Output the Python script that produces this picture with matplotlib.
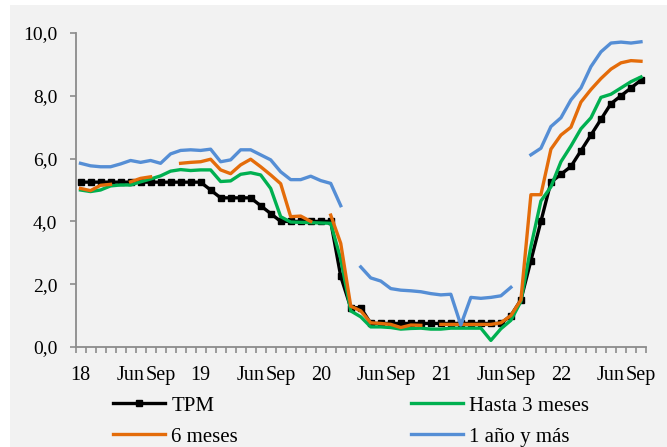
import numpy as np
import matplotlib
matplotlib.use("Agg")
import matplotlib.pyplot as plt
from matplotlib.patches import Rectangle

nan = np.nan

# monthly series, Jan 2018 .. Sep 2022
years = ["18", "19", "20", "21", "22"]
n_months = 57

tpm = [5.25]*13 + [5.0] + [4.75]*4 + [4.5, 4.25] + [4.0]*6 + [2.25, 1.25, 1.25] + [0.75]*14 + \
      [1.0, 1.5, 2.75, 4.0, 5.25, 5.5, 5.75, 6.25, 6.75, 7.25, 7.75, 8.0, 8.25, 8.5]

hasta3 = [5.0, 4.95, 5.0, 5.13, 5.16, 5.16, 5.26, 5.35, 5.45, 5.6, 5.65, 5.62, 5.64, 5.64,
          5.27, 5.29, 5.5, 5.55, 5.48, 5.05, 4.15, 3.98, 3.97, 3.96, 3.95, 3.94, 2.8, 1.15,
          0.96, 0.64, 0.64, 0.62, 0.57, 0.59, 0.6, 0.57, 0.57, 0.6, 0.6, 0.6, 0.6, 0.21, 0.58,
          0.85, 1.45, 3.2, 4.65, 5.1, 5.9, 6.4, 6.95, 7.3, 7.95, 8.05, 8.25, 8.45, 8.6]

seis = [5.05, 4.98, 5.15, 5.18, nan, 5.26, 5.37, 5.42, nan, nan, 5.85, 5.88, 5.9, 5.98,
        5.64, 5.52, 5.8, 5.98, 5.74, 5.48, 5.2, 4.15, 4.17, 4.0, nan, 4.2, 3.3, 1.3, 1.15,
        0.77, 0.75, 0.72, 0.62, 0.7, 0.69, nan, 0.72, 0.72, 0.72, 0.72, 0.72, 0.72, 0.77,
        1.0, 1.5, 4.85, 4.85, 6.3, 6.75, 7.0, 7.8, 8.2, 8.55, 8.85, 9.05, 9.12, 9.1]

unano = [5.85, 5.77, 5.74, 5.74, 5.83, 5.94, 5.88, 5.94, 5.85, 6.15, 6.26, 6.28, 6.26, 6.3,
         5.9, 5.96, 6.28, 6.28, 6.12, 5.96, 5.58, 5.33, 5.33, 5.44, 5.3, 5.21, 4.5, nan,
         2.55, 2.2, 2.1, 1.86, 1.81, 1.79, 1.76, 1.7, 1.66, 1.68, 0.7, 1.58, 1.55, 1.58, 1.63,
         1.9, nan, 6.12, 6.33, 7.02, 7.3, 7.87, 8.25, 8.93, 9.4, 9.68, 9.71, 9.68, 9.72]

c_tpm = "black"
c_3m = "#00B050"
c_6m = "#E46C0A"
c_1a = "#558ED5"

plt.rcParams['font.family'] = ['Liberation Serif', 'DejaVu Serif']

fig = plt.figure(figsize=(6.67, 4.47), dpi=100)
fig.patches.append(Rectangle((10/667, 0), 1, 442/447, transform=fig.transFigure,
                             facecolor="#F2F2F2", edgecolor="none", zorder=-5))
ax = fig.add_axes([75.5/667, 1-347/447, 570.5/667, 314/447])
ax.set_facecolor("none")

x = np.arange(n_months)
lw = 2.4
l1, = ax.plot(x, tpm, color=c_tpm, lw=lw, marker="s", ms=4.3, label="TPM")
l2, = ax.plot(x, hasta3, color=c_3m, lw=lw, label="Hasta 3 meses")
l3, = ax.plot(x, seis, color=c_6m, lw=lw, label="6 meses")
l4, = ax.plot(x, unano, color=c_1a, lw=lw, label="1 año y más")

ax.set_xlim(-0.5, n_months - 0.5)
ax.set_ylim(0, 10)

yt = np.arange(0, 10.1, 2)
ax.set_yticks(yt)
ax.set_yticklabels([f"{v:.1f}".replace(".", ",") for v in yt])

pos, lab = [], []
for k, yr in enumerate(years):
    for m, name in [(0, yr), (5, "Jun"), (8, "Sep")]:
        if 12*k + m < n_months:
            pos.append(12*k + m)
            lab.append(name)
ax.set_xticks(pos)
ax.set_xticklabels(lab)
ax.set_xticks(np.arange(-0.5, n_months, 1), minor=True)

for s in ["top", "right"]:
    ax.spines[s].set_visible(False)
for s in ["left", "bottom"]:
    ax.spines[s].set_color("#8C8C8C")
    ax.spines[s].set_linewidth(1.3)

ax.tick_params(axis="y", length=4, width=1.2, color="#8C8C8C", pad=9, labelsize=14)
ax.tick_params(axis="x", which="major", length=0, pad=14, labelsize=14.5)
ax.tick_params(axis="x", which="minor", length=4, width=1.2, color="#8C8C8C")

fig.legend([l1, l3, l2, l4], ["TPM", "6 meses", "Hasta 3 meses", "1 año y más"],
           loc="upper left", bbox_to_anchor=(113/667, 1-396/447), ncol=2, frameon=False,
           fontsize=15, handlelength=2.5, handletextpad=0.3, columnspacing=8.3,
           labelspacing=0.55, borderpad=0, borderaxespad=0)

fig.savefig("out.png", dpi=100, facecolor="white")
